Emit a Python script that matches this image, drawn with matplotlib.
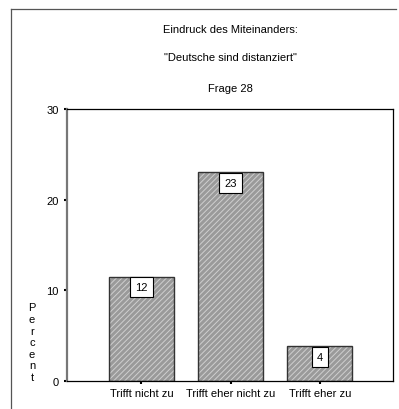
import matplotlib
matplotlib.use("Agg")
import matplotlib.pyplot as plt
from matplotlib.lines import Line2D
import numpy as np

plt.rcParams["font.family"] = ["Liberation Sans", "DejaVu Sans"]
plt.rcParams["hatch.linewidth"] = 0.7

categories = ["Trifft nicht zu", "Trifft eher nicht zu", "Trifft eher zu"]
percent = [11.5, 23.05, 3.82]
yticks = [0, 10, 20, 30]
title_lines = ["Eindruck des Miteinanders:", '"Deutsche sind distanziert"', "Frage 28"]

W, H = 399, 410
fig = plt.figure(figsize=(W / 100, H / 100), dpi=100)
ax = fig.add_axes([67 / W, 1 - 382 / H, (393 - 67) / W, (382 - 110) / H])

x = np.arange(len(categories))
w = 0.73
# hatched fill, then dark outline on top
ax.bar(x, percent, w, color="#9a9a9a", hatch="//////", edgecolor="#cfcfcf", linewidth=0)
ax.bar(x, percent, w, fill=False, edgecolor="#333333", linewidth=1.0)

for xi, v in zip(x, percent):
    ax.annotate(f"{v:.0f}", (xi, v), xytext=(0, -4), textcoords="offset points",
                ha="center", va="top", fontsize=8,
                bbox=dict(boxstyle="square,pad=0.45", fc="white", ec="black", lw=0.8))

ax.set_xlim(-0.835, 2.82)
ax.set_ylim(0, 30)
ax.set_yticks(yticks)
ax.set_xticks(x)
ax.set_xticklabels(categories, fontsize=8)
ax.tick_params(axis="y", labelsize=8, length=2, width=1.5, pad=4)
ax.tick_params(axis="x", length=2, width=1.5, pad=3)
for s in ["top", "right", "bottom"]:
    ax.spines[s].set_linewidth(0.9)
    ax.spines[s].set_color("black")
ax.spines["left"].set_linewidth(1.6)
ax.spines["left"].set_color("#777777")

# titles centred over plot area
cx = (67 + 393) / 2 / W
for ty, t in zip([30, 58, 89], title_lines):
    fig.text(cx, 1 - ty / H, t, ha="center", va="center", fontsize=8)

# stacked vertical y label
fig.text(32 / W, 1 - 383 / H, "\n".join("Percent"), ha="center", va="bottom",
         fontsize=8, linespacing=1.2)

# outer frame lines (left and top)
fig.add_artist(Line2D([11 / W, 11 / W], [0, 1 - 10 / H], transform=fig.transFigure,
                      color="#555555", lw=0.9))
fig.add_artist(Line2D([11 / W, 396 / W], [1 - 10 / H, 1 - 10 / H], transform=fig.transFigure,
                      color="#555555", lw=0.9))

fig.savefig("out.png", dpi=100)
